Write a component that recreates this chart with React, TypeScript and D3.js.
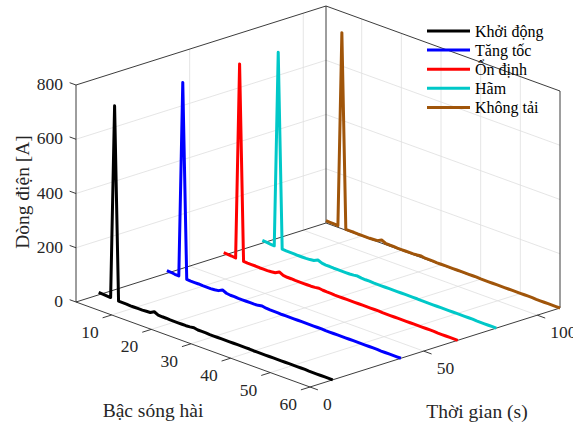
import * as d3 from 'd3';
import { useEffect } from 'react';

// harmonic order (x), time of each mode (y), current (z)
const harmonics = [
  1, 2, 3, 4, 5, 6, 7, 8, 9, 10,
  11, 12, 13, 14, 15, 16, 17, 18, 19, 20,
  21, 22, 23, 24, 25, 26, 27, 28, 29, 30,
  31, 32, 33, 34, 35, 36, 37, 38, 39, 40,
  41, 42, 43, 44, 45, 46, 47, 48, 49, 50,
  51, 52, 53, 54, 55, 56, 57, 58, 59, 60,
];

const modeNames = ['Khởi động', 'Tăng tốc', 'Ổn định', 'Hãm', 'Không tải'];
const modeTimes = [10, 40, 65, 82, 110];
const modeColors = ['#000000', '#0000ff', '#ff0000', '#00c8c8', '#a0550a'];

const khoiDong = [
  9, 8, 7, 6, 718, 3, 3, 3, 2, 2,
  2, 2, 3, 4, 12, 5, 4, 4, 3, 3,
  3, 3, 3, 4, 6, 3, 3, 3, 2, 2,
  2, 2, 2, 2, 2, 2, 2, 2, 2, 1,
  1, 1, 1, 1, 1, 1, 1, 1, 1, 1,
  1, 1, 1, 0, 0, 0, 0, 0, 0, 0,
];
const tangToc = [
  10, 9, 7, 6, 725, 4, 3, 3, 3, 2,
  2, 2, 3, 5, 13, 6, 4, 4, 3, 3,
  3, 3, 3, 4, 7, 4, 3, 3, 3, 2,
  2, 2, 2, 2, 2, 2, 2, 2, 2, 2,
  1, 1, 1, 1, 1, 1, 1, 1, 1, 1,
  1, 1, 1, 1, 0, 0, 0, 0, 0, 0,
];
const onDinh = [
  10, 9, 8, 6, 727, 4, 3, 3, 3, 2,
  2, 2, 3, 5, 13, 6, 4, 4, 3, 3,
  3, 3, 3, 4, 6, 4, 3, 3, 2, 2,
  2, 2, 2, 2, 2, 2, 2, 2, 2, 2,
  1, 1, 1, 1, 1, 1, 1, 1, 1, 1,
  1, 1, 1, 1, 0, 0, 0, 0, 0, 0,
];
const ham = [
  10, 9, 7, 6, 725, 4, 3, 3, 3, 2,
  2, 2, 3, 5, 12, 6, 4, 4, 3, 3,
  3, 3, 3, 4, 6, 4, 3, 3, 2, 2,
  2, 2, 2, 2, 2, 2, 2, 2, 2, 2,
  1, 1, 1, 1, 1, 1, 1, 1, 1, 1,
  1, 1, 1, 1, 0, 0, 0, 0, 0, 0,
];
const khongTai = [
  9, 8, 7, 6, 723, 3, 3, 3, 2, 2,
  2, 2, 3, 4, 12, 5, 4, 4, 3, 3,
  3, 3, 3, 4, 6, 3, 3, 3, 2, 2,
  2, 2, 2, 2, 2, 2, 2, 2, 2, 1,
  1, 1, 1, 1, 1, 1, 1, 1, 1, 1,
  1, 1, 1, 0, 0, 0, 0, 0, 0, 0,
];
const modeValues = [khoiDong, tangToc, onDinh, ham, khongTai];

const xTicks = [10, 20, 30, 40, 50, 60];
const yTicks = [0, 50, 100];
const zTicks = [0, 200, 400, 600, 800];

const W = 573;
const H = 424;
// projected box: origin = (x=1, y=0, z=0), full-range vectors for each axis
const O = [76, 302];
const AX = [234, 85];
const AY = [250, -79];
const AZ = [0, -217];

const font = "'Liberation Serif', 'Times New Roman', 'DejaVu Serif', serif";
const axisColor = '#262626';
const gridColor = '#dedede';

export default function App() {
  useEffect(() => {
    document.body.style.margin = '0';
  }, []);

  const xScale = d3.scaleLinear().domain([1, 60]).range([0, 1]);
  const yScale = d3.scaleLinear().domain([0, 110]).range([0, 1]);
  const zScale = d3.scaleLinear().domain([0, 800]).range([0, 1]);

  const project = (x: number, y: number, z: number): [number, number] => {
    const u = xScale(x), v = yScale(y), w = zScale(z);
    return [O[0] + u * AX[0] + v * AY[0] + w * AZ[0], O[1] + u * AX[1] + v * AY[1] + w * AZ[1]];
  };

  const seg = (a: [number, number, number], b: [number, number, number]) => {
    const p = project(...a);
    const q = project(...b);
    return `M${p[0]},${p[1]}L${q[0]},${q[1]}`;
  };

  const [x0, x1] = xScale.domain();
  const [y0, y1] = yScale.domain();
  const [z0, z1] = zScale.domain();

  // light grid on the three back planes
  const grid: string[] = [];
  xTicks.filter(t => t < x1).forEach(t => {
    grid.push(seg([t, y0, z0], [t, y1, z0]));
    grid.push(seg([t, y1, z0], [t, y1, z1]));
  });
  yTicks.filter(t => t > y0 && t < y1).forEach(t => {
    grid.push(seg([x0, t, z0], [x1, t, z0]));
    grid.push(seg([x0, t, z0], [x0, t, z1]));
  });
  zTicks.filter(t => t > z0 && t < z1).forEach(t => {
    grid.push(seg([x0, y0, t], [x0, y1, t]));
    grid.push(seg([x0, y1, t], [x1, y1, t]));
  });

  // box edges (back style) and axis lines
  const box = [
    seg([x0, y0, z0], [x1, y0, z0]),
    seg([x1, y0, z0], [x1, y1, z0]),
    seg([x0, y0, z0], [x0, y0, z1]),
    seg([x0, y0, z0], [x0, y1, z0]),
    seg([x0, y1, z0], [x1, y1, z0]),
    seg([x0, y1, z0], [x0, y1, z1]),
    seg([x1, y1, z0], [x1, y1, z1]),
    seg([x0, y0, z1], [x0, y1, z1]),
    seg([x0, y1, z1], [x1, y1, z1]),
  ];

  const line = d3.line<[number, number]>().x(d => d[0]).y(d => d[1]);

  const tickLenY = 4; // y units
  const tickLenX = 2; // x units

  return (
    <svg width={W} height={H} style={{ display: 'block', position: 'absolute', left: 0, top: 0, background: '#fff' }}
      fontFamily={font}>
      <g fill="none" stroke={gridColor} strokeWidth={0.8}>
        {grid.map((d, i) => <path key={i} d={d} />)}
      </g>
      <g fill="none" stroke={axisColor} strokeWidth={0.9}>
        {box.map((d, i) => <path key={i} d={d} />)}
        {xTicks.map(t => <path key={'xt' + t} d={seg([t, y0, z0], [t, y0 - tickLenY, z0])} />)}
        {yTicks.map(t => <path key={'yt' + t} d={seg([x1, t, z0], [x1 + tickLenX, t, z0])} />)}
        {zTicks.map(t => <path key={'zt' + t} d={seg([x0, y0, t], [x0 - 1.6, y0, t])} />)}
      </g>

      {/* series, back to front */}
      <g fill="none" strokeWidth={3} strokeLinejoin="round" strokeLinecap="butt">
        {modeValues.map((vals, i) => ({ vals, i })).reverse().map(({ vals, i }) => (
          <path key={modeNames[i]} stroke={modeColors[i]}
            d={line(harmonics.map((h, k) => project(h, modeTimes[i], vals[k]))) || ''} />
        ))}
      </g>

      <g fontSize={17.5} fill="#262626">
        {xTicks.map(t => {
          const p = project(t, y0, z0);
          return <text key={'xl' + t} x={p[0] - 13} y={p[1] + 17} textAnchor="end" dominantBaseline="central">{t}</text>;
        })}
        {yTicks.map(t => {
          const p = project(x1, t, z0);
          return <text key={'yl' + t} x={p[0] + 13} y={p[1] + 17} textAnchor="start" dominantBaseline="central">{t}</text>;
        })}
        {zTicks.map(t => {
          const p = project(x0, y0, t);
          return <text key={'zl' + t} x={p[0] - 13} y={p[1] - 1} textAnchor="end" dominantBaseline="central">{t}</text>;
        })}
      </g>

      <g fontSize={19.5} fill="#262626" textAnchor="middle">
        <text x={153} y={410} dominantBaseline="central">Bậc sóng hài</text>
        <text x={477} y={411} dominantBaseline="central">Thời gian (s)</text>
        <text transform="translate(22,192) rotate(-90)" dominantBaseline="central">Dòng điện [A]</text>
      </g>

      <g fontSize={16}>
        {modeNames.map((name, i) => {
          const yy = 31 + i * 19.1;
          return (
            <g key={name}>
              <line x1={427} x2={470} y1={yy} y2={yy} stroke={modeColors[i]} strokeWidth={3} />
              <text x={475} y={yy} dominantBaseline="central" fill="#000">{name}</text>
            </g>
          );
        })}
      </g>
    </svg>
  );
}
